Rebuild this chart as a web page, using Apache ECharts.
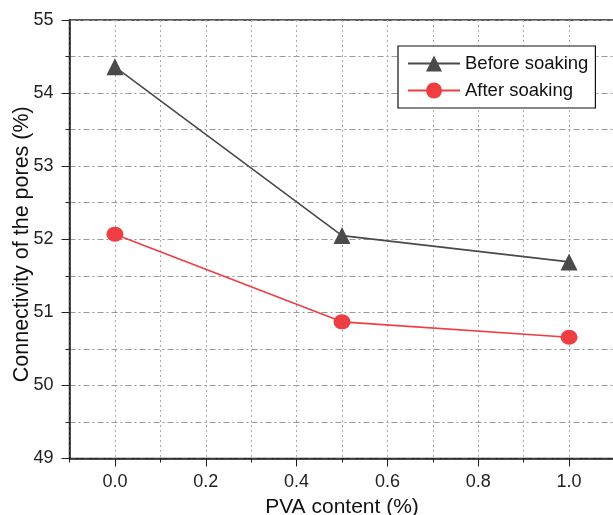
<!DOCTYPE html>
<html>
<head>
<meta charset="utf-8">
<script src="https://cdn.jsdelivr.net/npm/echarts@6/dist/echarts.min.js"></script>
<style>
html, body { margin: 0; padding: 0; background: #fff; }
#main { width: 613px; height: 515px; }
</style>
</head>
<body>
<div id="main"></div>
<script>
// PVA content (%)
var pva = [0.0, 0.5, 1.0];
var beforeSoaking = [54.36, 52.05, 51.69];
var afterSoaking = [52.07, 50.87, 50.66];
// labelled x ticks
var xTicks = [0.0, 0.2, 0.4, 0.6, 0.8, 1.0];

var pair = function(xs, ys) {
	var out = [];
	for (var i = 0; i < xs.length; i++) {
		out.push([xs[i], ys[i]]);
	}
	return out;
};

var font = 'Liberation Sans, Arial, sans-serif';
var myChart = echarts.init(document.getElementById('main'));
var option = {
	animation: false,
	textStyle: { fontFamily: font },
	grid: {
		left: 69.5,
		top: 20,
		width: 545,
		bottom: 56.5,
		outerBoundsMode: 'none',
		containLabel: false,
		show: true,
		borderColor: '#222',
		borderWidth: 1.5
	},
	legend: {
		orient: 'vertical',
		left: 398,
		top: 46,
		itemWidth: 52,
		itemHeight: 20,
		itemGap: 8,
		padding: [8, 7, 8, 9],
		backgroundColor: '#fff',
		borderColor: '#111',
		borderWidth: 1.2,
		textStyle: { fontSize: 18.5, color: '#111', fontFamily: font },
		data: ['Before soaking', 'After soaking']
	},
	xAxis: [{
		// minor ticks + vertical grid
		type: 'value',
		min: -0.1,
		max: 1.1,
		interval: 0.1,
		name: 'PVA content (%)',
		nameLocation: 'middle',
		nameGap: 38,
		nameMoveOverlap: false,
		nameTextStyle: { fontSize: 21, color: '#111', fontFamily: font },
		axisLine: { show: true, onZero: false, lineStyle: { color: '#222', width: 1.5 } },
		axisTick: { show: true, inside: false, length: 4, lineStyle: { color: '#222' } },
		axisLabel: { show: false },
		splitLine: { show: true, lineStyle: { color: '#aaa', type: [2, 3], width: 1 } }
	}, {
		// major ticks + labels
		type: 'value',
		position: 'bottom',
		min: -0.1,
		max: 1.1,
		axisLine: { show: false, onZero: false },
		axisTick: { show: true, inside: false, length: 8, customValues: xTicks, lineStyle: { color: '#222' } },
		axisLabel: {
			fontSize: 18,
			color: '#222',
			margin: 15,
			customValues: xTicks,
			formatter: function(v) { return v.toFixed(1); }
		},
		splitLine: { show: false }
	}],
	yAxis: {
		type: 'value',
		min: 49,
		max: 55,
		interval: 1,
		name: 'Connectivity of the pores (%)',
		nameLocation: 'middle',
		nameRotate: 90,
		nameGap: 36,
		nameMoveOverlap: false,
		nameTextStyle: { fontSize: 21.5, color: '#111', fontFamily: font, padding: [0, 10, 0, 0] },
		axisLine: { show: true, onZero: false, lineStyle: { color: '#222', width: 1.5 } },
		axisTick: { show: true, inside: false, length: 8, lineStyle: { color: '#222' } },
		minorTick: { show: true, splitNumber: 2, length: 4, lineStyle: { color: '#222' } },
		axisLabel: { fontSize: 18, color: '#222', margin: 16 },
		splitLine: { show: true, lineStyle: { color: '#999', type: [6, 3, 2, 3], width: 1 } },
		minorSplitLine: { show: true, lineStyle: { color: '#999', type: [6, 3, 2, 3], width: 1 } }
	},
	series: [{
		name: 'Before soaking',
		type: 'line',
		data: pair(pva, beforeSoaking),
		symbol: 'triangle',
		symbolSize: 17,
		itemStyle: { color: '#4a4a4a' },
		lineStyle: { color: '#4a4a4a', width: 1.6 }
	}, {
		name: 'After soaking',
		type: 'line',
		data: pair(pva, afterSoaking),
		symbol: 'circle',
		symbolSize: [17, 15],
		itemStyle: { color: '#ef3e42' },
		lineStyle: { color: '#ef3e42', width: 1.6 }
	}]
};
myChart.setOption(option);
</script>
</body>
</html>
